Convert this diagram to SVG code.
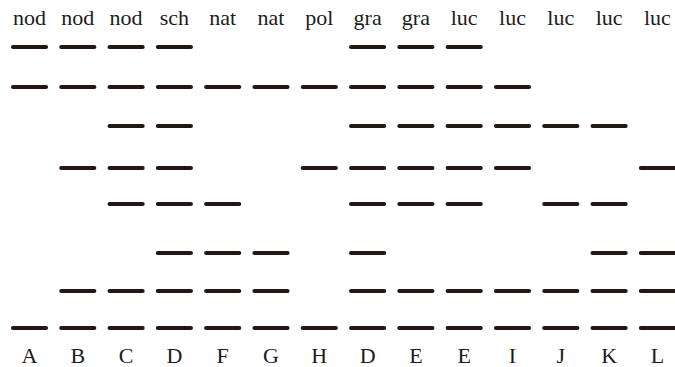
<svg xmlns="http://www.w3.org/2000/svg" width="675" height="367" viewBox="0 0 675 367">
  <style>
    .bg { fill: #ffffff; }
    .lbl { font-family: "Liberation Serif", "Times New Roman", serif; font-size: 22px; fill: #1c1c1c; text-anchor: middle; }
    .bar { stroke: #231614; stroke-width: 4.2; stroke-linecap: round; }
  </style>
  <defs>
    <line id="dash" class="bar" x1="-16.5" y1="0" x2="16.5" y2="0"/>
  </defs>
  <rect class="bg" x="0" y="0" width="675" height="367"/>

  <!-- one group per column: top label, present bands, bottom label -->
  <g id="col-A" transform="translate(29.5,0)">
    <text class="lbl" x="0" y="25">nod</text>
    <use href="#dash" y="47"/><use href="#dash" y="87"/><use href="#dash" y="328"/>
    <text class="lbl" x="0" y="363">A</text>
  </g>
  <g id="col-B" transform="translate(77.8,0)">
    <text class="lbl" x="0" y="25">nod</text>
    <use href="#dash" y="47"/><use href="#dash" y="87"/><use href="#dash" y="168"/><use href="#dash" y="291"/><use href="#dash" y="328"/>
    <text class="lbl" x="0" y="363">B</text>
  </g>
  <g id="col-C" transform="translate(126.1,0)">
    <text class="lbl" x="0" y="25">nod</text>
    <use href="#dash" y="47"/><use href="#dash" y="87"/><use href="#dash" y="126"/><use href="#dash" y="168"/><use href="#dash" y="204"/><use href="#dash" y="291"/><use href="#dash" y="328"/>
    <text class="lbl" x="0" y="363">C</text>
  </g>
  <g id="col-D1" transform="translate(174.4,0)">
    <text class="lbl" x="0" y="25">sch</text>
    <use href="#dash" y="47"/><use href="#dash" y="87"/><use href="#dash" y="126"/><use href="#dash" y="168"/><use href="#dash" y="204"/><use href="#dash" y="253"/><use href="#dash" y="291"/><use href="#dash" y="328"/>
    <text class="lbl" x="0" y="363">D</text>
  </g>
  <g id="col-F" transform="translate(222.7,0)">
    <text class="lbl" x="0" y="25">nat</text>
    <use href="#dash" y="87"/><use href="#dash" y="204"/><use href="#dash" y="253"/><use href="#dash" y="291"/><use href="#dash" y="328"/>
    <text class="lbl" x="0" y="363">F</text>
  </g>
  <g id="col-G" transform="translate(271,0)">
    <text class="lbl" x="0" y="25">nat</text>
    <use href="#dash" y="87"/><use href="#dash" y="253"/><use href="#dash" y="291"/><use href="#dash" y="328"/>
    <text class="lbl" x="0" y="363">G</text>
  </g>
  <g id="col-H" transform="translate(319.3,0)">
    <text class="lbl" x="0" y="25">pol</text>
    <use href="#dash" y="87"/><use href="#dash" y="168"/><use href="#dash" y="328"/>
    <text class="lbl" x="0" y="363">H</text>
  </g>
  <g id="col-D2" transform="translate(367.6,0)">
    <text class="lbl" x="0" y="25">gra</text>
    <use href="#dash" y="47"/><use href="#dash" y="87"/><use href="#dash" y="126"/><use href="#dash" y="168"/><use href="#dash" y="204"/><use href="#dash" y="253"/><use href="#dash" y="291"/><use href="#dash" y="328"/>
    <text class="lbl" x="0" y="363">D</text>
  </g>
  <g id="col-E1" transform="translate(415.9,0)">
    <text class="lbl" x="0" y="25">gra</text>
    <use href="#dash" y="47"/><use href="#dash" y="87"/><use href="#dash" y="126"/><use href="#dash" y="168"/><use href="#dash" y="204"/><use href="#dash" y="291"/><use href="#dash" y="328"/>
    <text class="lbl" x="0" y="363">E</text>
  </g>
  <g id="col-E2" transform="translate(464.2,0)">
    <text class="lbl" x="0" y="25">luc</text>
    <use href="#dash" y="47"/><use href="#dash" y="87"/><use href="#dash" y="126"/><use href="#dash" y="168"/><use href="#dash" y="204"/><use href="#dash" y="291"/><use href="#dash" y="328"/>
    <text class="lbl" x="0" y="363">E</text>
  </g>
  <g id="col-I" transform="translate(512.5,0)">
    <text class="lbl" x="0" y="25">luc</text>
    <use href="#dash" y="87"/><use href="#dash" y="126"/><use href="#dash" y="168"/><use href="#dash" y="291"/><use href="#dash" y="328"/>
    <text class="lbl" x="0" y="363">I</text>
  </g>
  <g id="col-J" transform="translate(560.8,0)">
    <text class="lbl" x="0" y="25">luc</text>
    <use href="#dash" y="126"/><use href="#dash" y="204"/><use href="#dash" y="291"/><use href="#dash" y="328"/>
    <text class="lbl" x="0" y="363">J</text>
  </g>
  <g id="col-K" transform="translate(609.1,0)">
    <text class="lbl" x="0" y="25">luc</text>
    <use href="#dash" y="126"/><use href="#dash" y="204"/><use href="#dash" y="253"/><use href="#dash" y="291"/><use href="#dash" y="328"/>
    <text class="lbl" x="0" y="363">K</text>
  </g>
  <g id="col-L" transform="translate(657.4,0)">
    <text class="lbl" x="0" y="25">luc</text>
    <use href="#dash" y="168"/><use href="#dash" y="253"/><use href="#dash" y="291"/><use href="#dash" y="328"/>
    <text class="lbl" x="0" y="363">L</text>
  </g>
</svg>
